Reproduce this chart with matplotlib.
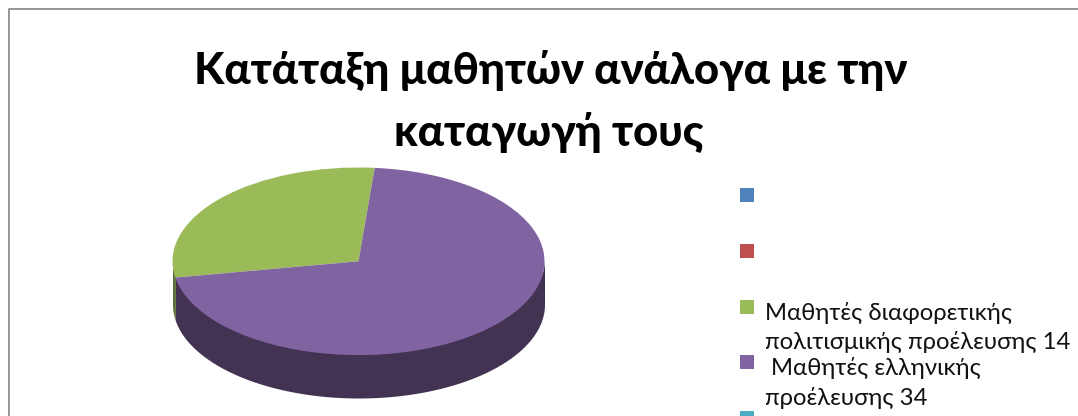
import numpy as np
import matplotlib
matplotlib.use("Agg")
import matplotlib.pyplot as plt
from matplotlib.patches import Rectangle

title_lines = ["Κατάταξη μαθητών ανάλογα με την", "καταγωγή τους"]
categories = ["", "", "Μαθητές διαφορετικής\nπολιτισμικής προέλευσης 14",
              " Μαθητές ελληνικής\nπροέλευσης 34", ""]
values = [0, 0, 14, 34, 0]
colors = ["#4F81BD", "#C0504D", "#9BBB59", "#8064A2", "#4BACC6"]
side_colors = ["#2F4D71", "#733030", "#5D7035", "#433352", "#2D6776"]

W, H = 1078, 416
START = 85
DEPTH = 43 / 94
plt.rcParams["font.family"] = ["Lato", "Open Sans", "DejaVu Sans"]

fig = plt.figure(figsize=(W / 100, H / 100), dpi=100, facecolor="white")

bg = fig.add_axes([0, 0, 1, 1])
bg.set_xlim(0, W)
bg.set_ylim(H, 0)
bg.axis("off")
bg.plot([9.2, 9.2, W], [H, 9.2, 9.2], color="#8c8c8c", lw=1.3)

bg.text(550.5, 84, title_lines[0], ha="center", va="baseline", fontsize=31.4, fontweight="black", color="black")
bg.text(549, 146, title_lines[1], ha="center", va="baseline", fontsize=31.4, fontweight="black", color="black")

# legend
for i, (lab, col) in enumerate(zip(categories, colors)):
    y = 188 + i * 55.8
    bg.add_patch(Rectangle((740, y), 14, 14, fc=col, ec="none", clip_on=True))
    if lab:
        parts = lab.split("\n")
        base = y + 20
        for j, p in enumerate(parts):
            x = 765 + (6 if p.startswith(" ") else 0)
            bg.text(x, base + j * 29.5, p.strip(), ha="left", va="baseline", fontsize=17.2, color="#111111")

# pie
cx, rx, top, bottom = 358.5, 186, 167.5, 398
ax = fig.add_axes([(cx - rx) / W, 1 - bottom / H, 2 * rx / W, (bottom - top) / H])
ax.pie(values, colors=colors, startangle=START, counterclock=True, radius=1,
       wedgeprops={"linewidth": 0, "zorder": 3}, frame=False)
ax.set_aspect("auto")
ax.set_xlim(-1, 1)
ax.set_ylim(-1 - DEPTH, 1)
ax.axis("off")

edges = START + np.cumsum([0] + values) / sum(values) * 360
for a0, a1, c in zip(edges[:-1], edges[1:], side_colors):
    lo, hi = max(a0, 180), min(a1, 360)
    if hi > lo:
        t = np.radians(np.linspace(lo, hi, 200))
        ax.fill_between(np.cos(t), np.sin(t) + 0.03, np.sin(t) - DEPTH, color=c, lw=0, zorder=2)

fig.savefig("out.png", dpi=100, facecolor="white")
